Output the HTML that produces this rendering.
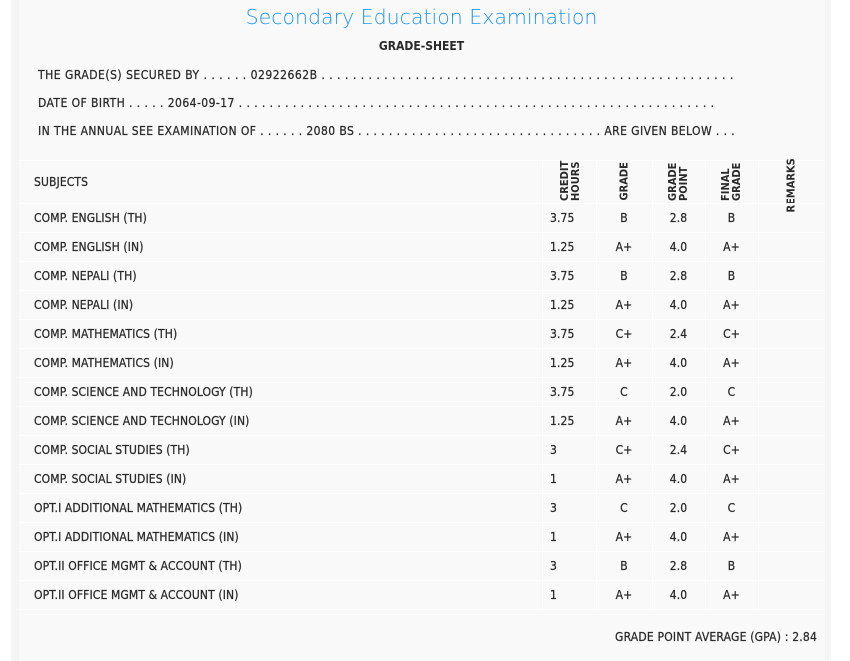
<!DOCTYPE html>
<html><head><meta charset="utf-8"><style>
*{margin:0;padding:0;box-sizing:border-box}
body{width:850px;height:661px;background:#fff;position:relative;overflow:hidden;font-family:"DejaVu Sans Condensed","Liberation Sans",sans-serif;color:#2a2a2a;font-size:12px;-webkit-text-stroke:0.25px #2a2a2a}
.strip{position:absolute;left:11px;top:0;width:820px;height:661px;background:#f5f5f5}
.panel{position:absolute;left:19px;top:0;width:806px;height:661px;background:#f9f9f9}
.t{position:absolute;white-space:nowrap}
.ls{letter-spacing:0.12px}
.hl{position:absolute;left:19px;width:806px;height:1px;background:#fff}
.vl{position:absolute;width:1px;background:#fff}
.rot{position:absolute;transform:rotate(-90deg);transform-origin:center;font-weight:bold;font-size:11px;line-height:11px;text-align:left;white-space:nowrap;-webkit-text-stroke:0}
</style></head><body>
<div class="strip"></div><div class="panel"></div>
<div class="t" style="left:0;width:843px;text-align:center;top:5px;font-family:'DejaVu Sans','Liberation Sans',sans-serif;font-weight:200;font-size:20.5px;color:#2196f3;-webkit-text-stroke:0">Secondary Education Examination</div>
<div class="t" style="left:0;width:843px;text-align:center;top:39px;font-weight:bold;font-size:12px;-webkit-text-stroke:0">GRADE-SHEET</div>
<div class="t" style="left:38px;top:68px;letter-spacing:0.5px">THE GRADE(S) SECURED BY . . . . . . 02922662B . . . . . . . . . . . . . . . . . . . . . . . . . . . . . . . . . . . . . . . . . . . . . . . . . . . . .</div>
<div class="t" style="left:38px;top:96px;letter-spacing:0.44px">DATE OF BIRTH . . . . . 2064-09-17 . . . . . . . . . . . . . . . . . . . . . . . . . . . . . . . . . . . . . . . . . . . . . . . . . . . . . . . . . . . . . .</div>
<div class="t" style="left:38px;top:124px;letter-spacing:0.42px">IN THE ANNUAL SEE EXAMINATION OF . . . . . . 2080 BS . . . . . . . . . . . . . . . . . . . . . . . . . . . . . . . . ARE GIVEN BELOW . . .</div>
<div class="hl" style="top:160px"></div>
<div class="t ls" style="left:34px;top:175px">SUBJECTS</div>
<div class="rot" style="left:545px;top:165px;width:50px;height:22px">CREDIT<br>HOURS</div>
<div class="rot" style="left:599px;top:170px;width:50px;height:11px">GRADE</div>
<div class="rot" style="left:653px;top:165px;width:50px;height:22px">GRADE<br>POINT</div>
<div class="rot" style="left:706px;top:165px;width:50px;height:22px">FINAL<br>GRADE</div>
<div class="rot" style="left:761px;top:177px;width:60px;height:11px">REMARKS</div>
<div id="rows"></div>
<div class="t" style="left:615px;top:630px;letter-spacing:0.2px">GRADE POINT AVERAGE (GPA) : 2.84</div>
<script>
var d=[["COMP. ENGLISH (TH)","3.75","B","2.8","B"],["COMP. ENGLISH (IN)","1.25","A+","4.0","A+"],["COMP. NEPALI (TH)","3.75","B","2.8","B"],["COMP. NEPALI (IN)","1.25","A+","4.0","A+"],["COMP. MATHEMATICS (TH)","3.75","C+","2.4","C+"],["COMP. MATHEMATICS (IN)","1.25","A+","4.0","A+"],["COMP. SCIENCE AND TECHNOLOGY (TH)","3.75","C","2.0","C"],["COMP. SCIENCE AND TECHNOLOGY (IN)","1.25","A+","4.0","A+"],["COMP. SOCIAL STUDIES (TH)","3","C+","2.4","C+"],["COMP. SOCIAL STUDIES (IN)","1","A+","4.0","A+"],["OPT.I ADDITIONAL MATHEMATICS (TH)","3","C","2.0","C"],["OPT.I ADDITIONAL MATHEMATICS (IN)","1","A+","4.0","A+"],["OPT.II OFFICE MGMT & ACCOUNT (TH)","3","B","2.8","B"],["OPT.II OFFICE MGMT & ACCOUNT (IN)","1","A+","4.0","A+"]];
var h="";
[542,596,652,705,758].forEach(function(x){h+='<div class="vl" style="left:'+x+'px;top:160px;height:449px"></div>'});
h+='<div class="hl" style="top:203px"></div>';
d.forEach(function(r,i){var y=203+i*29;
h+='<div class="t ls" style="left:34px;top:'+(y+8)+'px">'+r[0].replace("&","&amp;")+'</div>';
h+='<div class="t ls" style="left:550px;top:'+(y+8)+'px">'+r[1]+'</div>';
h+='<div class="t ls" style="left:596px;width:56px;text-align:center;top:'+(y+8)+'px">'+r[2]+'</div>';
h+='<div class="t ls" style="left:652px;width:53px;text-align:center;top:'+(y+8)+'px">'+r[3]+'</div>';
h+='<div class="t ls" style="left:705px;width:53px;text-align:center;top:'+(y+8)+'px">'+r[4]+'</div>';
h+='<div class="hl" style="top:'+(y+29)+'px"></div>';});
document.getElementById("rows").innerHTML=h;
</script>
</body></html>
